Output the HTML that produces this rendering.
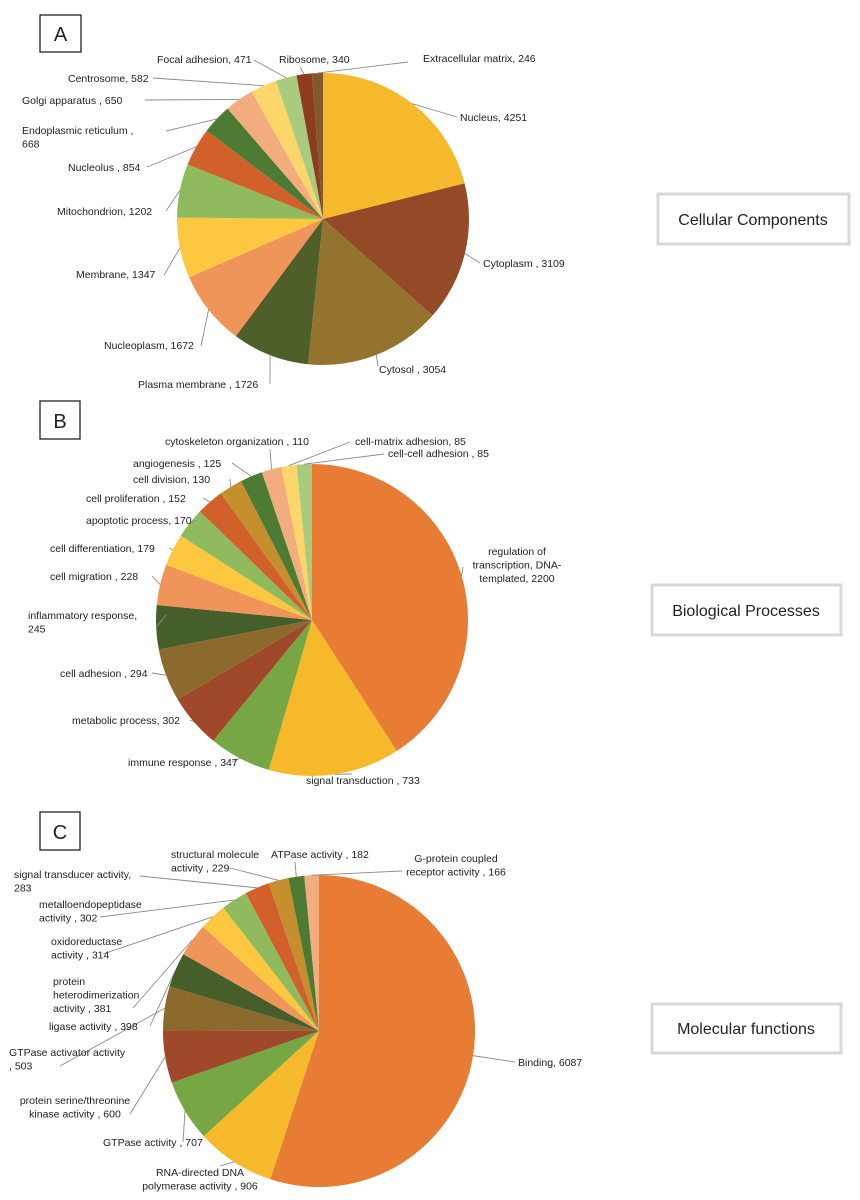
<!DOCTYPE html>
<html><head><meta charset="utf-8"><style>
body{margin:0;background:#fff;}
svg{display:block;font-family:"Liberation Sans",Arial,sans-serif;}
</style></head><body>
<svg id="s" width="860" height="1200" viewBox="0 0 860 1200">
<rect width="860" height="1200" fill="#fff"/>
<g><rect x="40" y="15" width="41" height="37" fill="#fff" stroke="#222" stroke-width="1.3"/><text x="60.5" y="41" font-size="20" text-anchor="middle" fill="#222">A</text></g>
<g><rect x="40" y="401" width="40" height="38" fill="#fff" stroke="#222" stroke-width="1.3"/><text x="60" y="428" font-size="20" text-anchor="middle" fill="#222">B</text></g>
<g><rect x="40" y="812" width="40" height="38" fill="#fff" stroke="#222" stroke-width="1.3"/><text x="60" y="839" font-size="20" text-anchor="middle" fill="#222">C</text></g>
<g><rect x="658" y="194" width="191" height="50" fill="#fff" stroke="#d8d8d4" stroke-width="3"/><text x="753" y="225" font-size="16" text-anchor="middle" fill="#222">Cellular Components</text></g>
<g><rect x="652" y="585" width="189" height="50" fill="#fff" stroke="#d8d8d4" stroke-width="3"/><text x="746" y="616" font-size="16" text-anchor="middle" fill="#222">Biological Processes</text></g>
<g><rect x="652" y="1004" width="189" height="49" fill="#fff" stroke="#d8d8d4" stroke-width="3"/><text x="746" y="1034" font-size="16" text-anchor="middle" fill="#222">Molecular functions</text></g>
</svg>
<script>
const ccCategories=["Nucleus","Cytoplasm","Cytosol","Plasma membrane","Nucleoplasm","Membrane","Mitochondrion","Nucleolus","Endoplasmic reticulum","Golgi apparatus","Centrosome","Focal adhesion","Ribosome","Extracellular matrix"];
const ccValues=[4251,3109,3054,1726,1672,1347,1202,854,668,650,582,471,340,246];
const bpCategories=["regulation of transcription, DNA-templated","signal transduction","immune response","metabolic process","cell adhesion","inflammatory response","cell migration","cell differentiation","apoptotic process","cell proliferation","cell division","angiogenesis","cytoskeleton organization","cell-matrix adhesion","cell-cell adhesion"];
const bpValues=[2200,733,347,302,294,245,228,179,170,152,130,125,110,85,85];
const mfCategories=["Binding","RNA-directed DNA polymerase activity","GTPase activity","protein serine/threonine kinase activity","GTPase activator activity","ligase activity","protein heterodimerization activity","oxidoreductase activity","metalloendopeptidase activity","signal transducer activity","structural molecule activity","ATPase activity","G-protein coupled receptor activity"];
const mfValues=[6087,906,707,600,503,398,381,314,302,283,229,182,166];

const S=document.getElementById('s');
const NS='http://www.w3.org/2000/svg';
function mk(t,a){const e=document.createElementNS(NS,t);for(const k in a)e.setAttribute(k,a[k]);return e;}

const ccColors=["#F6B92B","#944A27","#94732F","#4E5F2A","#EF955A","#FDC840","#8FBB5E","#D2602B","#4E7B33","#F2AC7E","#FDD66B","#A8CB7E","#8E3B1F","#7F5A2B"];
const bpColors=["#E87C35","#F6B92B","#76A744","#A0492A","#8C6A2D","#455E2A","#EF955A","#FDC840","#8FBB5E","#D2602B","#C58F2E","#4E7B33","#F2AC7E","#FDD66B","#A8CB7E"];
const mfColors=["#E87C35","#F6B92B","#76A744","#A0492A","#8C6A2D","#455E2A","#EF955A","#FDC840","#8FBB5E","#D2602B","#C58F2E","#4E7B33","#F2AC7E"];

// label layout: [lines, x, y, anchor, leaderX, leaderY]
const ccLayout=[
[["Nucleus, {v}"],460,121,"start",457,117],
[["Cytoplasm , {v}"],483,267,"start",480,263],
[["Cytosol , {v}"],379,373,"start",378,366],
[["Plasma membrane , {v}"],138,388,"start",270,384],
[["Nucleoplasm, {v}"],104,349,"start",201,346],
[["Membrane, {v}"],76,278,"start",164,275],
[["Mitochondrion, {v}"],57,215,"start",166,211],
[["Nucleolus , {v}"],68,171,"start",147,167],
[["Endoplasmic reticulum ,","{v}"],22,134,"start",166,131],
[["Golgi apparatus , {v}"],22,104,"start",145,100],
[["Centrosome, {v}"],68,82,"start",153,78],
[["Focal adhesion, {v}"],157,63,"start",254,60],
[["Ribosome, {v}"],279,63,"start",300,67],
[["Extracellular matrix, {v}"],423,62,"start",408,62]];
const bpLayout=[
[["regulation of","transcription, DNA-","templated, {v}"],517,555,"middle",463,567],
[["signal transduction , {v}"],306,784,"start",352,774],
[["immune response , {v}"],128,766,"start",232,762],
[["metabolic process, {v}"],72,724,"start",190,720],
[["cell adhesion , {v}"],60,677,"start",152,673],
[["inflammatory response,","{v}"],28,619,"start",166,615],
[["cell migration , {v}"],50,580,"start",152,576],
[["cell differentiation, {v}"],50,552,"start",169,548],
[["apoptotic process, {v}"],86,524,"start",197,520],
[["cell proliferation , {v}"],86,502,"start",203,498],
[["cell division, {v}"],133,483,"start",230,479],
[["angiogenesis , {v}"],133,467,"start",232,463],
[["cytoskeleton organization , {v}"],165,445,"start",270,449],
[["cell-matrix adhesion, {v}"],355,445,"start",350,442],
[["cell-cell adhesion , {v}"],388,457,"start",384,454]];
const mfLayout=[
[["Binding, {v}"],518,1066,"start",515,1062],
[["RNA-directed DNA","polymerase activity , {v}"],200,1176,"middle",220,1166],
[["GTPase activity , {v}"],103,1146,"start",183,1142],
[["protein serine/threonine","kinase activity , {v}"],75,1104,"middle",130,1114],
[["GTPase activator activity",", {v}"],9,1056,"start",60,1066],
[["ligase activity , {v}"],49,1030,"start",150,1026],
[["protein","heterodimerization","activity , {v}"],53,985,"start",133,1008],
[["oxidoreductase","activity , {v}"],51,945,"start",103,954],
[["metalloendopeptidase","activity , {v}"],39,908,"start",100,917],
[["signal transducer activity,","{v}"],14,878,"start",140,876],
[["structural molecule","activity , {v}"],171,858,"start",230,868],
[["ATPase activity , {v}"],271,858,"start",295,862],
[["G-protein coupled","receptor activity , {v}"],456,862,"middle",402,871]];

function drawPie(name,cats,vals,colors,layout,cx,cy,r){
  const g=mk('g',{});
  
  
  S.appendChild(g);
  const total=vals.reduce((a,b)=>a+b,0);
  let a0=0;
  const ang=v=>v/total*2*Math.PI;
  const pt=(a,rr)=>[cx+rr*Math.sin(a),cy-rr*Math.cos(a)];
  vals.forEach((v,i)=>{
    const a1=a0+ang(v);
    const p0=pt(a0,r),p1=pt(a1,r);
    const large=(a1-a0)>Math.PI?1:0;
    const slug=cats[i].toLowerCase().replace(/[^a-z0-9]+/g,'-').replace(/-+$/,'');
    const p=mk('path',{d:`M${cx},${cy}L${p0[0]},${p0[1]}A${r},${r} 0 ${large} 1 ${p1[0]},${p1[1]}Z`,fill:colors[i%colors.length]});
    
    
    g.appendChild(p);
    const L=layout[i];
    if(L){
      const m=pt((a0+a1)/2,r);
      const ln=mk('polyline',{points:`${m[0]},${m[1]} ${L[4]},${L[5]}`,fill:'none',stroke:'#8a8a8a','stroke-width':0.9});
      
      
      g.appendChild(ln);
      const t=mk('text',{x:L[1],y:L[2],'text-anchor':L[3],'font-size':10.5,fill:'#222'});
      
      
      L[0].forEach((s,k)=>{
        const ts=mk('tspan',{x:L[1],dy:k?13.5:0});
        ts.textContent=s.replace('{v}',v);
        t.appendChild(ts);
      });
      g.appendChild(t);
    }
    a0=a1;
  });
}
drawPie('pie-cellular-components',ccCategories,ccValues,ccColors,ccLayout,323,219,146);
drawPie('pie-biological-processes',bpCategories,bpValues,bpColors,bpLayout,312,620,156);
drawPie('pie-molecular-functions',mfCategories,mfValues,mfColors,mfLayout,319,1031,156);
</script>
</body></html>
